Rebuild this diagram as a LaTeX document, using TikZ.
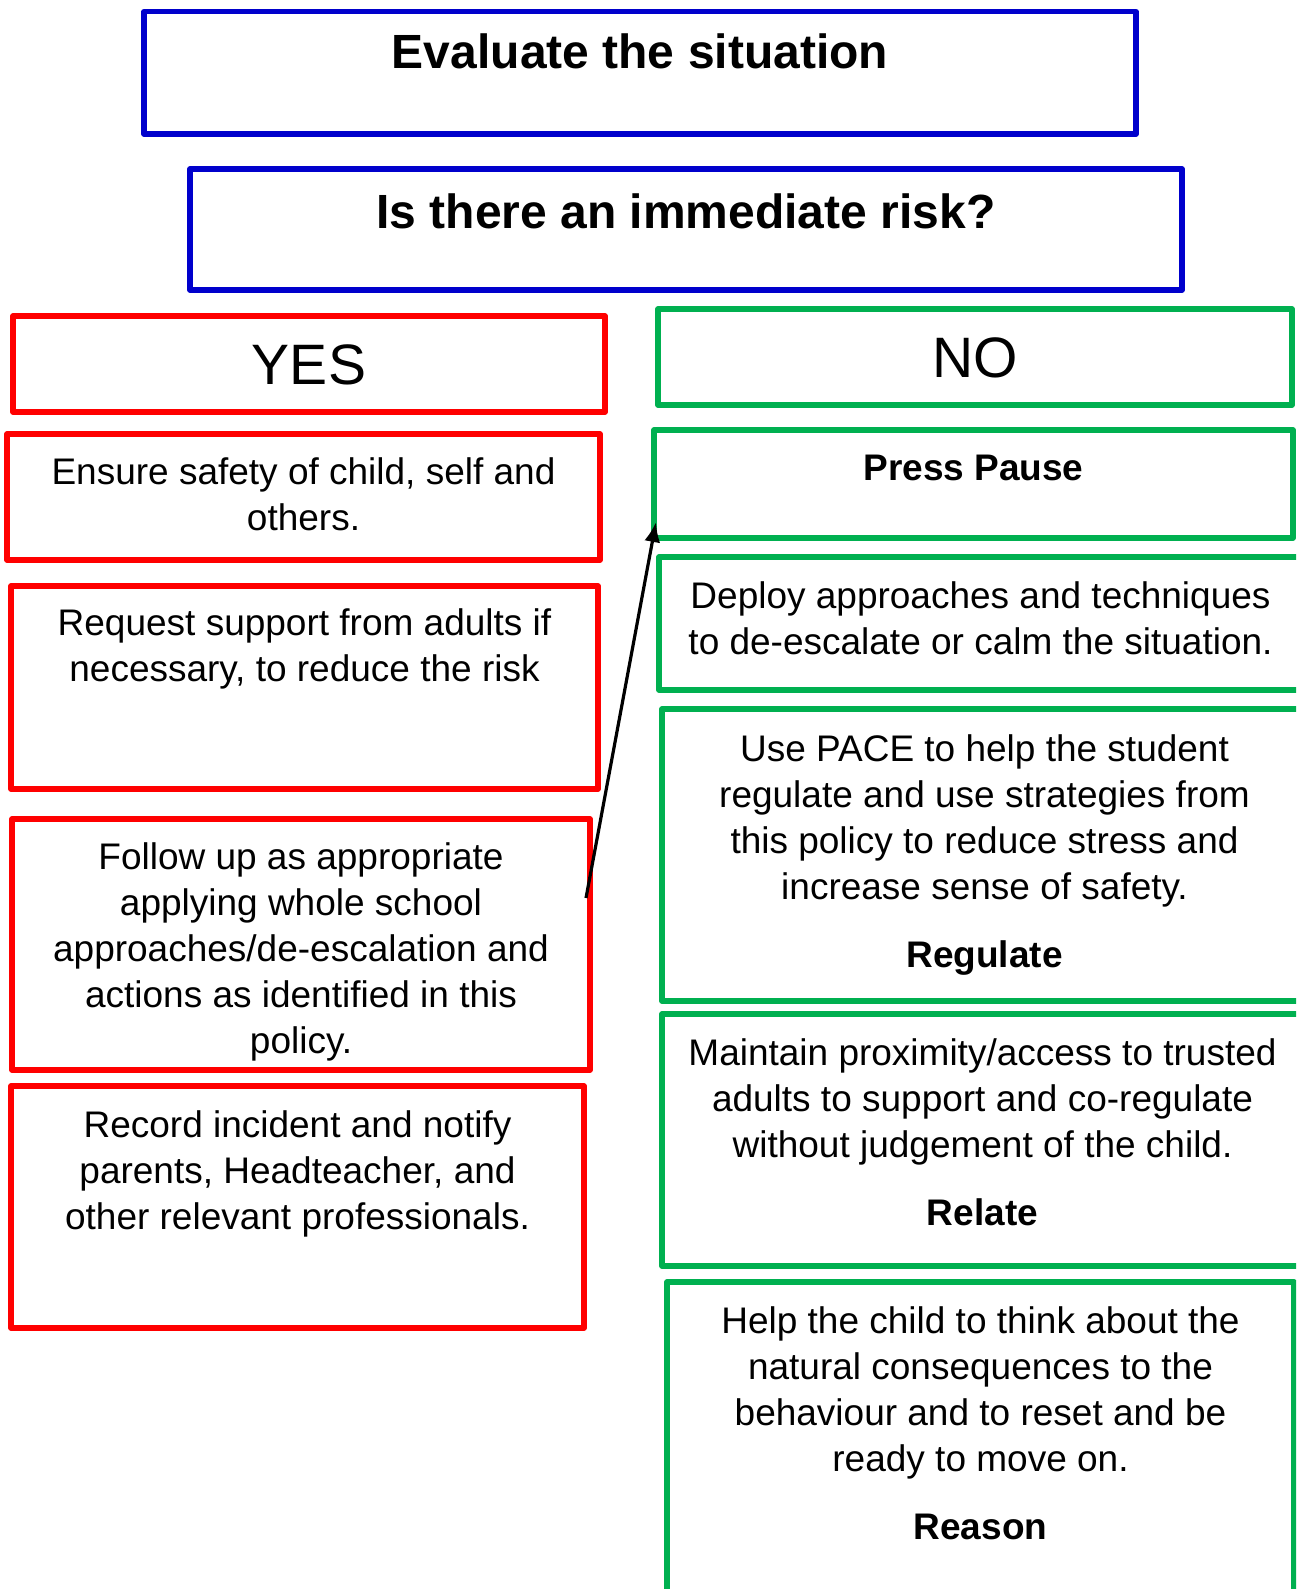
\documentclass[tikz,border=0pt]{standalone}
\usepackage{fontspec}
\setmainfont{Liberation Sans}
\usetikzlibrary{positioning,arrows.meta}
\definecolor{boxblue}{RGB}{0,0,204}
\definecolor{boxred}{RGB}{255,0,0}
\definecolor{boxgreen}{RGB}{0,176,80}
% text block of a box: width, height, first baseline, lines
\newcommand{\boxtxt}[4]{\parbox[t][#2][t]{#1}{\centering\rule{0pt}{#3}#4}}
\tikzstyle{plain box}=[
        line width = 2.6pt,
        line join = round,
        inner sep = 0pt,
        outer sep = 0pt,
        anchor = north west,
        font = \fontsize{18.5pt}{23pt}\selectfont
    ]
\tikzstyle{blue box}=[plain box, draw = boxblue, font = \fontsize{24pt}{29pt}\selectfont\bfseries]
\tikzstyle{red box}=[plain box, draw = boxred]
\tikzstyle{green box}=[plain box, draw = boxgreen]
\tikzstyle{answer}=[font = \fontsize{28.5pt}{34pt}\selectfont]

\begin{document}
\begin{tikzpicture}[x=0.5pt, y=-0.5pt]
        \useasboundingbox (0,0) rectangle (1296,1589);
        \clip (0,0) rectangle (1296,1589);

        % question
        \node[blue box] (eval) at (144,11.5) {\boxtxt{496pt}{61.25pt}{28.5pt}{Evaluate the situation}};
        \node[blue box] (risk) [below=17.5pt of eval.south west, anchor=north west, xshift=23pt] {\boxtxt{496pt}{60.5pt}{29.5pt}{Is there an immediate risk?}};

        % yes column
        \node[red box, answer] (yes) at (13,316) {\boxtxt{296pt}{48pt}{34.25pt}{YES}};
        \node[red box] (ensure) [below=11pt of yes.south west, anchor=north west, xshift=-3pt] {\boxtxt{296.5pt}{63pt}{25pt}{Ensure safety of child, self and\\ others.}};
        \node[red box] (request) [below=13pt of ensure.south west, anchor=north west, xshift=2pt] {\boxtxt{293.5pt}{101.5pt}{24.5pt}{Request support from adults if\\ necessary, to reduce the risk}};
        \node[red box] (follow) [below=15pt of request.south west, anchor=north west, xshift=0.5pt] {\boxtxt{289pt}{125.5pt}{25pt}{Follow up as appropriate\\ applying whole school\\ approaches/de-escalation and\\ actions as identified in this\\ policy.}};
        \node[red box] (record) [below=8pt of follow.south west, anchor=north west, xshift=-0.5pt] {\boxtxt{286.5pt}{121pt}{25.5pt}{Record incident and notify\\ parents, Headteacher, and\\ other relevant professionals.}};

        % no column
        \node[green box, answer] (no) at (658,309) {\boxtxt{317pt}{48pt}{34pt}{NO}};
        \node[green box] (pause) [below=12.5pt of no.south west, anchor=north west, xshift=-2pt] {\boxtxt{319.5pt}{54pt}{25pt}{\textbf{Press Pause}}};
        \node[green box] (deploy) [below=9.5pt of pause.south west, anchor=north west, xshift=2.5pt] {\boxtxt{321.5pt}{66.5pt}{25.5pt}{Deploy approaches and techniques\\ to de-escalate or calm the situation.}};
        \node[green box] (pace) [below=9.5pt of deploy.south west, anchor=north west, xshift=1.5pt] {\boxtxt{322.5pt}{146pt}{26pt}{Use PACE to help the student\\ regulate and use strategies from\\ this policy to reduce stress and\\ increase sense of safety.\\[11pt] \textbf{Regulate}}};
        \node[green box] (maintain) [below=6.5pt of pace.south west, anchor=north west] {\boxtxt{320.5pt}{126pt}{25.5pt}{Maintain proximity/access to trusted\\ adults to support and co-regulate\\ without judgement of the child.\\[11pt] \textbf{Relate}}};
        \node[green box] (help) [below=8pt of maintain.south west, anchor=north west, xshift=2.5pt] {\boxtxt{313.5pt}{169pt}{25.75pt}{Help the child to think about the\\ natural consequences to the\\ behaviour and to reset and be\\ ready to move on.\\[11pt] \textbf{Reason}}};

        \draw[-{Latex[length=10pt,width=8pt]}, line width=1.6pt] ([xshift=-2pt,yshift=-39.5pt]follow.north east) -- ([xshift=1pt,yshift=8pt]pause.south west);
    \end{tikzpicture}
\end{document}
